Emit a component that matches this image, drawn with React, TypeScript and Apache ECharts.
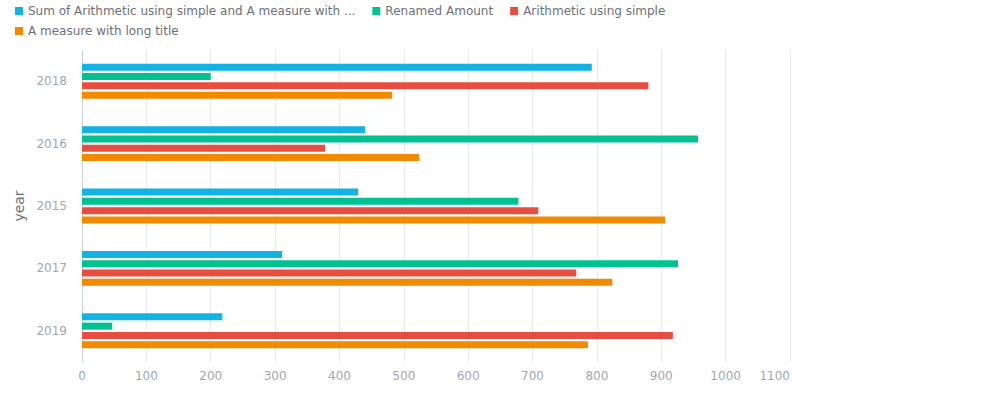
import React, { useEffect, useRef } from "react";
import * as echarts from "echarts";

const categories = ["2018", "2016", "2015", "2017", "2019"];
const seriesNames = [
  "Sum of Arithmetic using simple and A measure with long title",
  "Renamed Amount",
  "Arithmetic using simple",
  "A measure with long title",
];
const sumValues = [792, 440, 429, 311, 218];
const renamedValues = [200, 957, 678, 926, 47];
const arithmeticValues = [880, 378, 709, 768, 918];
const longTitleValues = [482, 524, 906, 824, 786];
const colors = ["#12b2e3", "#00c290", "#e74e42", "#f08a00"];
const xTicks = { min: 0, max: 1100, interval: 100 };

export default function App() {
  const ref = useRef<HTMLDivElement>(null);
  useEffect(() => {
    if (!ref.current) return;
    const chart = echarts.init(ref.current, null, { renderer: "svg" });
    const values = [sumValues, renamedValues, arithmeticValues, longTitleValues];
    const legendBase = {
      left: 15,
      padding: 0,
      itemWidth: 8,
      itemHeight: 8,
      itemGap: 17,
      icon: "rect",
      formatter: (name: string) =>
        name.length > 50 ? name.slice(0, 50) + "..." : name,
      textStyle: { color: "#6e7079", fontSize: 12 },
    };
    chart.setOption({
      animation: false,
      color: colors,
      textStyle: { fontFamily: "DejaVu Sans" },
      legend: [
        {
          ...legendBase,
          top: 5,
          data: seriesNames.slice(0, 3).map((n, i) =>
            i === 0 ? { name: n, textStyle: { width: 333, overflow: "truncate" } } : { name: n }
          ),
        },
        {
          ...legendBase,
          top: 25,
          data: seriesNames.slice(3),
        },
      ],
      grid: { left: 82, right: 218, top: 50, bottom: 38 },
      xAxis: {
        type: "value",
        min: xTicks.min,
        max: xTicks.max,
        interval: xTicks.interval,
        axisLine: { show: false },
        axisTick: { show: false },
        axisLabel: {
          color: "#a0a7b4",
          fontSize: 12,
          margin: 8,
          alignMaxLabel: "right",
          formatter: (v: number) => String(v),
        },
        splitLine: { show: true, lineStyle: { color: "#e9e9e9", width: 1 } },
      },
      yAxis: {
        type: "category",
        data: categories,
        inverse: true,
        name: "year",
        nameLocation: "middle",
        nameGap: 48,
        nameTextStyle: { color: "#6e7079", fontSize: 14 },
        axisLine: { show: true, lineStyle: { color: "#c8d3e6" } },
        axisTick: { show: false },
        axisLabel: { color: "#a0a7b4", fontSize: 12, margin: 15 },
        splitLine: { show: false },
      },
      series: seriesNames.map((n, i) => ({
        name: n,
        type: "bar",
        data: values[i],
        barWidth: 7,
        barGap: "33%",
        itemStyle: { color: colors[i] },
      })),
    });
    return () => chart.dispose();
  }, []);
  return (
    <div
      ref={ref}
      style={{ position: "absolute", left: 0, top: 0, width: 1008, height: 400 }}
    />
  );
}
